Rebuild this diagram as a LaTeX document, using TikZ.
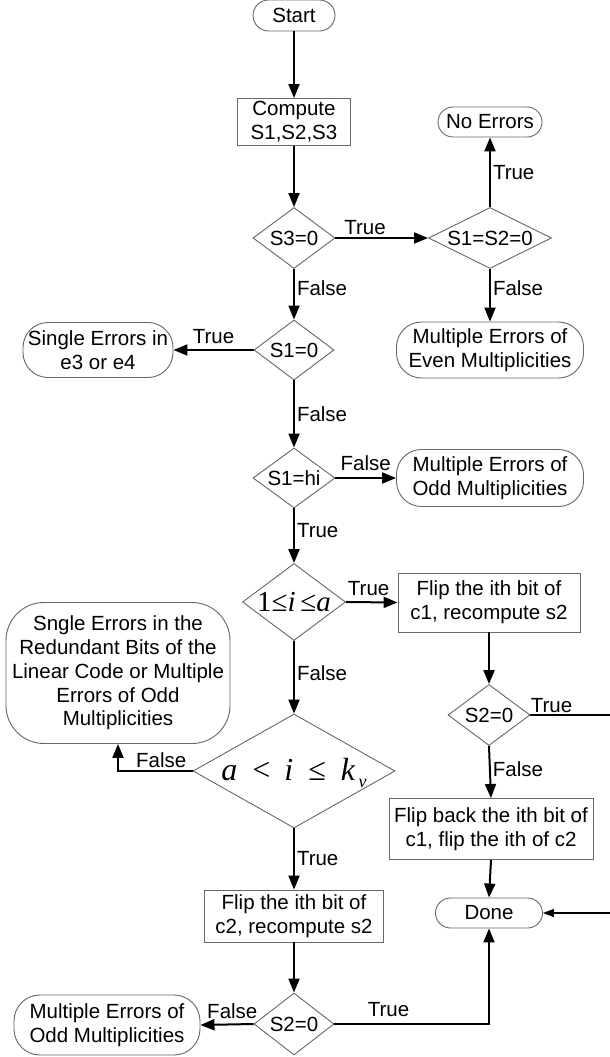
\documentclass[tikz,border=0pt]{standalone}
\usepackage{fontspec}
\setmainfont{Liberation Sans}
\newfontfamily\serifm{Liberation Serif}
\usetikzlibrary{shapes.geometric,arrows.meta}
\begin{document}
\begin{tikzpicture}[x=1pt,y=-1pt,
  every node/.style={font=\fontsize{20.5}{23.7}\selectfont},
  box/.style={draw=black!60, line width=0.9pt, align=center, inner sep=0pt},
  proc/.style={box, rectangle},
  term/.style={box, rectangle, rounded corners=#1},
  dec/.style={box, diamond},
  arr/.style={line width=2pt, -{Triangle[length=14pt,width=11pt]}},
  thinarr/.style={line width=1.1pt, -{Triangle[length=11pt,width=8pt]}},
  lab/.style={inner sep=2pt}
]
\useasboundingbox (0,0) rectangle (610,1057);

% nodes
\node[term=15.5pt, minimum width=82pt, minimum height=31pt] (start) at (294,15.5) {Start};
\node[proc, minimum width=113pt, minimum height=47pt] (compute) at (294,122) {Compute\\S1,S2,S3};
\node[dec, minimum width=82pt, minimum height=61pt, label=center:{S3=0}] (s3) at (294,238) {};
\node[dec, minimum width=123pt, minimum height=61pt, label=center:{S1=S2=0}] (s1s2) at (490,238) {};
\node[term=15pt, minimum width=104pt, minimum height=30pt] (noerr) at (490,122) {No Errors};
\node[term=25pt, minimum width=187pt, minimum height=56pt] (multeven) at (490,350) {Multiple Errors of\\Even Multiplicities};
\node[dec, minimum width=80pt, minimum height=60pt, label=center:{S1=0}] (s10) at (294,350) {};
\node[term=25pt, minimum width=150pt, minimum height=55pt] (single) at (98,350) {Single Errors in\\e3 or e4};
\node[dec, minimum width=82pt, minimum height=60pt, label=center:{S1=hi}] (s1hi) at (294,478) {};
\node[term=25pt, minimum width=187pt, minimum height=57pt] (multodd) at (490,478) {Multiple Errors of\\Odd Multiplicities};
\node[dec, minimum width=103pt, minimum height=77pt,
  label=center:{\serifm\fontsize{29}{29}\selectfont 1≤\textit{i}\,≤\textit{a}}] (range1) at (294,602) {};
\node[proc, minimum width=182pt, minimum height=59pt] (flip1) at (489,602.5) {Flip the ith bit of\\c1, recompute s2};
\node[dec, minimum width=82pt, minimum height=61pt, label=center:{S2=0}] (s2a) at (489,715) {};
\node[proc, minimum width=204pt, minimum height=61pt] (flipback) at (491,829) {Flip back the ith bit of\\c1, flip the ith of c2};
\node[term=15pt, minimum width=107pt, minimum height=30pt] (done) at (489,913) {Done};
\node[dec, minimum width=202pt, minimum height=114pt,
  label={[yshift=-2pt]center:{\serifm\fontsize{32}{32}\selectfont\textit{a}\hspace{15pt}<\hspace{14pt}\textit{i}\hspace{15pt}≤\hspace{15pt}\textit{k}\hspace{3pt}\raisebox{-7pt}{\fontsize{18}{18}\selectfont\textit{v}}}}] (range2) at (294,771) {};
\node[term=38pt, minimum width=224pt, minimum height=141pt] (sngle) at (118,673) {Sngle Errors in the\\Redundant Bits of the\\Linear Code or Multiple\\Errors of Odd\\Multiplicities};
\node[proc, minimum width=179pt, minimum height=52pt] (flip2) at (294,916) {Flip the ith bit of\\c2, recompute s2};
\node[dec, minimum width=80pt, minimum height=62pt, label=center:{S2=0}] (s2b) at (294,1024) {};
\node[term=26pt, minimum width=186pt, minimum height=60pt] (multodd2) at (107,1025) {Multiple Errors of\\Odd Multiplicities};
\coordinate (rt) at (618,715);

% connectors
\draw[arr] (start) -- (compute);
\draw[arr] (compute) -- (s3);
\draw[arr] (s3.east) -- node[lab, above, pos=0.32] {True} (s1s2.west);
\draw[arr] (s1s2.north) -- node[lab, right, pos=0.5] {True} (noerr.south);
\draw[arr] (s1s2.south) -- node[lab, right, pos=0.37] {False} (multeven.north);
\draw[arr] (s3.south) -- node[lab, right, pos=0.37] {False} (s10.north);
\draw[arr] (s10.west) -- node[lab, above=3pt, pos=0.5] {True} (single.east);
\draw[arr] (s10.south) -- node[lab, right, pos=0.5] {False} (s1hi.north);
\draw[arr] (s1hi.east) -- node[lab, above=4pt, pos=0.5] {False} (multodd.west);
\draw[arr] (s1hi.south) -- node[lab, right, pos=0.4] {True} (range1.north);
\draw[arr] (range1.east) -- node[lab, above=4pt, pos=0.44] {True} (flip1.west);
\draw[arr] (range1.south) -- node[lab, right, pos=0.45] {False} (range2.north);
\draw[arr] (range2.west) -| node[lab, above, pos=0.21] {False} (sngle.south);
\draw[arr] (range2.south) -- node[lab, right, pos=0.5] {True} (flip2.north);
\draw[arr] (flip2.south) -- (s2b.north);
\draw[arr] (s2b.west) -- node[lab, above=3pt, pos=0.4] {False} (multodd2.east);
\draw[arr] (s2b.east) -| node[lab, above=4pt, pos=0.175] {True} (done.south);
\draw[arr] (flip1.south) -- (s2a.north);
\draw[arr] (s2a.south) -- node[lab, right, pos=0.45] {False} (flipback.north);
\draw[arr] (flipback.south) -- (done.north);
\draw[thinarr] (s2a.east) -- node[lab, above, pos=0.24] {True} (rt) |- (done.east);
\end{tikzpicture}
\end{document}
